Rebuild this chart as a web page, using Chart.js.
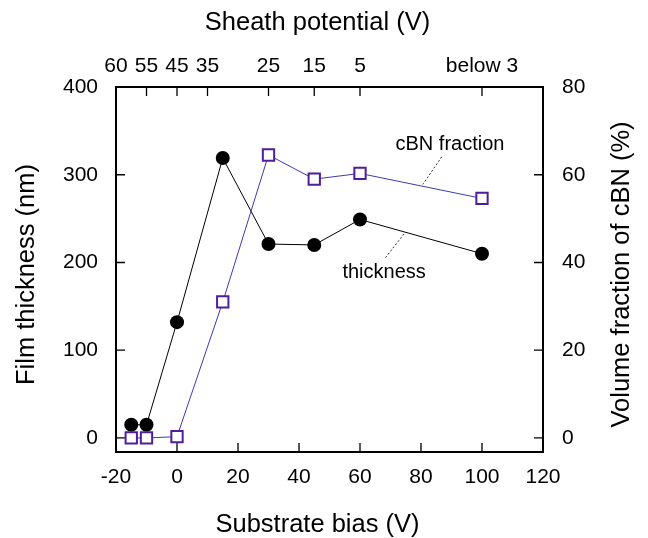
<!DOCTYPE html>
<html>
<head>
<meta charset="utf-8">
<script src="https://cdn.jsdelivr.net/npm/chart.js@4.4.1/dist/chart.umd.min.js"></script>
<style>
  html, body { margin: 0; padding: 0; background: #fff; }
</style>
</head>
<body>
<canvas id="chart" width="648" height="538"></canvas>
<script>
// Substrate bias (V) of each sample
const biasV = [-15, -10, 0, 15, 30, 45, 60, 100];
// Film thickness (nm) -> left axis
const thicknessNm = [15, 15, 132, 319, 221, 220, 249, 210];
// Volume fraction of cBN (%) -> right axis
const cbnFraction = [0, 0, 0.3, 31, 64.5, 59, 60.3, 54.6];

// Axis ticks
const biasTicks = [-20, 0, 20, 40, 60, 80, 100, 120];
const thicknessTicks = [0, 100, 200, 300, 400];
const fractionTicks = [0, 20, 40, 60, 80];

// Top axis: sheath potential, labelled at given bias positions
const sheathTickPos = [-20, -10, 0, 10, 30, 45, 60, 100];
const sheathTickLabels = ['60', '55', '45', '35', '25', '15', '5', 'below 3'];

const FONT = "'Liberation Sans', Arial, Helvetica, sans-serif";
const TICK_LEN = 9;

// Curve labels with dotted leader lines, in data units of the given y axis
const curveLabels = [
  { text: 'cBN fraction', axis: 'y1', x: 89.5, y: 66.8, from: [86.8, 64.1], to: [80.6, 57.8] },
  { text: 'thickness', axis: 'y', x: 67.9, y: 189, from: [74.4, 232.5], to: [68.2, 204.8] }
];

const points = ys => biasV.map((x, i) => ({ x: x, y: ys[i] }));
const setTicks = vals => scale => { scale.ticks = vals.map(v => ({ value: v })); };
const tickFont = { family: FONT, size: 21 };
const noGrid = { drawOnChartArea: false, drawTicks: false };

// frame + inward tick marks (gnuplot style)
const frameAndTicks = {
  id: 'frameAndTicks',
  beforeDatasetsDraw(chart) {
    const { ctx, chartArea: a, scales } = chart;
    ctx.save();
    ctx.strokeStyle = '#000';
    ctx.lineWidth = 1.3;
    ctx.beginPath();
    scales.x.ticks.forEach(t => {
      const px = scales.x.getPixelForValue(t.value);
      ctx.moveTo(px, a.bottom); ctx.lineTo(px, a.bottom - TICK_LEN);
    });
    scales.x2.ticks.forEach(t => {
      const px = scales.x2.getPixelForValue(t.value);
      ctx.moveTo(px, a.top); ctx.lineTo(px, a.top + TICK_LEN);
    });
    scales.y.ticks.forEach(t => {
      const py = scales.y.getPixelForValue(t.value);
      ctx.moveTo(a.left, py); ctx.lineTo(a.left + TICK_LEN, py);
    });
    scales.y1.ticks.forEach(t => {
      const py = scales.y1.getPixelForValue(t.value);
      ctx.moveTo(a.right, py); ctx.lineTo(a.right - TICK_LEN, py);
    });
    ctx.stroke();
    ctx.lineWidth = 2;
    ctx.strokeRect(a.left, a.top, a.right - a.left, a.bottom - a.top);
    ctx.restore();
  },
  afterDraw(chart) {
    const { ctx, chartArea: a, scales } = chart;
    ctx.save();
    ctx.fillStyle = '#000';
    ctx.textAlign = 'center';
    ctx.textBaseline = 'middle';

    // axis titles
    const xMid = (a.left + a.right) / 2 - 12;
    const yMid = (a.top + a.bottom) / 2 + 5;
    ctx.font = '25.5px ' + FONT;
    ctx.fillText('Sheath potential (V)', xMid, 23);
    ctx.fillText('Substrate bias (V)', xMid, 525);
    [['Film thickness (nm)', 27], ['Volume fraction of cBN (%)', 622]].forEach(([txt, x]) => {
      ctx.save();
      ctx.translate(x, yMid);
      ctx.rotate(-Math.PI / 2);
      ctx.fillText(txt, 0, 0);
      ctx.restore();
    });

    // curve labels
    ctx.font = '20px ' + FONT;
    curveLabels.forEach(l => {
      const ys = scales[l.axis];
      ctx.fillText(l.text, scales.x.getPixelForValue(l.x), ys.getPixelForValue(l.y));
      ctx.save();
      ctx.strokeStyle = '#333';
      ctx.lineWidth = 1;
      ctx.setLineDash([2, 2]);
      ctx.beginPath();
      ctx.moveTo(scales.x.getPixelForValue(l.from[0]), ys.getPixelForValue(l.from[1]));
      ctx.lineTo(scales.x.getPixelForValue(l.to[0]), ys.getPixelForValue(l.to[1]));
      ctx.stroke();
      ctx.restore();
    });
    ctx.restore();
  }
};

new Chart(document.getElementById('chart'), {
  type: 'line',
  data: {
    datasets: [
      {
        label: 'cBN fraction',
        data: points(cbnFraction),
        xAxisID: 'x', yAxisID: 'y1',
        borderColor: '#3a3ab4', borderWidth: 1,
        pointStyle: 'rect', pointRadius: 8,
        pointBackgroundColor: '#fff', pointBorderColor: '#4f1d9e', pointBorderWidth: 2
      },
      {
        label: 'thickness',
        data: points(thicknessNm),
        xAxisID: 'x', yAxisID: 'y',
        borderColor: '#000', borderWidth: 1,
        pointStyle: 'circle', pointRadius: 7,
        pointBackgroundColor: '#000', pointBorderColor: '#000', pointBorderWidth: 0
      }
    ]
  },
  options: {
    responsive: false,
    animation: false,
    devicePixelRatio: 1,
    layout: { padding: 0 },
    plugins: { legend: { display: false }, tooltip: { enabled: false } },
    scales: {
      x: {
        type: 'linear', position: 'bottom', min: -20, max: 120,
        afterBuildTicks: setTicks(biasTicks),
        afterFit: s => { s.height = 86; },
        ticks: { font: tickFont, color: '#000', padding: 13, autoSkip: false, maxRotation: 0 },
        grid: noGrid, border: { display: false }
      },
      x2: {
        type: 'linear', position: 'top', min: -20, max: 120,
        afterBuildTicks: setTicks(sheathTickPos),
        afterFit: s => { s.height = 87; },
        ticks: {
          font: tickFont, color: '#000', padding: 8, autoSkip: false, maxRotation: 0,
          callback: (v, i) => sheathTickLabels[i]
        },
        grid: noGrid, border: { display: false }
      },
      y: {
        type: 'linear', position: 'left', min: -16, max: 400,
        afterBuildTicks: setTicks(thicknessTicks),
        afterFit: s => { s.width = 116; },
        ticks: { font: tickFont, color: '#000', padding: 18 },
        grid: noGrid, border: { display: false }
      },
      y1: {
        type: 'linear', position: 'right', min: -3.2, max: 80,
        afterBuildTicks: setTicks(fractionTicks),
        afterFit: s => { s.width = 105; },
        ticks: { font: tickFont, color: '#000', padding: 19 },
        grid: noGrid, border: { display: false }
      }
    }
  },
  plugins: [frameAndTicks]
});
</script>
</body>
</html>
